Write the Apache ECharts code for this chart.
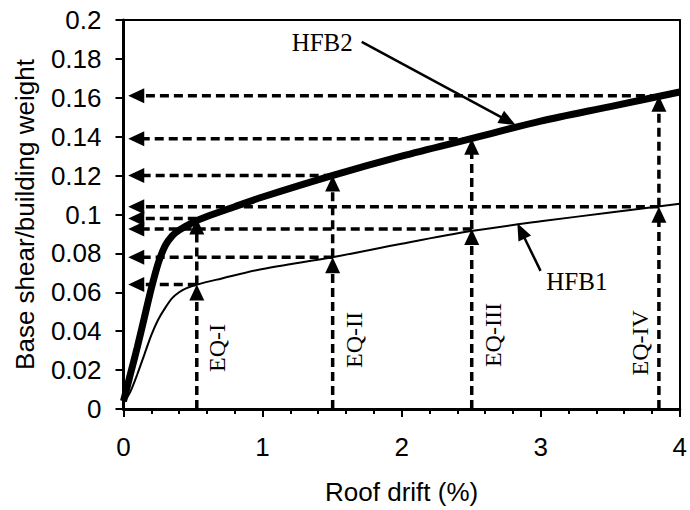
<!DOCTYPE html>
<html><head><meta charset="utf-8">
<script src="https://cdn.jsdelivr.net/npm/echarts@6/dist/echarts.min.js"></script>
<style>html,body{margin:0;padding:0;background:#fff}#c{width:690px;height:510px}</style>
</head><body><div id="c"></div>
<script>
// ---- data ----
const xTickLabels = ['0', '1', '2', '3', '4'];
const yTickLabels = ['0', '0.02', '0.04', '0.06', '0.08', '0.1', '0.12', '0.14', '0.16', '0.18', '0.2'];

const hfb2Drift = [0, 0.05, 0.1, 0.15, 0.2, 0.25, 0.3, 0.35, 0.4, 0.5, 0.6, 0.8, 1.0, 1.5, 2.0, 2.5, 3.0, 3.5, 4.0];
const hfb2Shear = [0.004, 0.018, 0.032, 0.047, 0.062, 0.075, 0.084, 0.089, 0.092, 0.096, 0.099, 0.104, 0.109, 0.12, 0.13, 0.139, 0.148, 0.1555, 0.163];

const hfb1Drift = [0, 0.05, 0.1, 0.15, 0.2, 0.25, 0.3, 0.35, 0.4, 0.45, 0.53, 0.7, 1.0, 1.5, 2.0, 2.5, 3.0, 3.5, 4.0];
const hfb1Shear = [0.003, 0.009, 0.018, 0.028, 0.038, 0.046, 0.052, 0.057, 0.060, 0.062, 0.064, 0.067, 0.072, 0.078, 0.085, 0.0915, 0.0965, 0.101, 0.1055];

const eqNames = ['EQ-I', 'EQ-II', 'EQ-III', 'EQ-IV'];
const eqDrift = [0.527, 1.504, 2.504, 3.85];
const eqShearHFB1 = [0.064, 0.078, 0.0925, 0.104];
const eqShearHFB2 = [0.098, 0.12, 0.139, 0.161];
const arrowTipDrift = 0.034;
const eqLabelDrift = [0.671, 1.654, 2.654, 3.711];
const eqLabelShear = [0.0314, 0.0355, 0.038, 0.034];

const curveNames = ['HFB2', 'HFB1'];
const curveLabelDrift = [1.429, 3.26];
const curveLabelShear = [0.1882, 0.0653];
const pointerFromDrift = [1.713, 2.999];
const pointerFromShear = [0.1888, 0.071];
const pointerToDrift = [2.82, 2.832];
const pointerToShear = [0.146, 0.0955];

// ---- build ----
const SANS = '"Liberation Sans", Arial, sans-serif';
const SERIF = '"Liberation Serif", "Times New Roman", serif';

const dashedSegs = [];
eqDrift.forEach((x, i) => {
  dashedSegs.push([x, 0, x, eqShearHFB1[i]]);
  dashedSegs.push([x, eqShearHFB1[i], x, eqShearHFB2[i]]);
  dashedSegs.push([x, eqShearHFB1[i], arrowTipDrift, eqShearHFB1[i]]);
  dashedSegs.push([x, eqShearHFB2[i], arrowTipDrift, eqShearHFB2[i]]);
});
const pointerSegs = curveNames.map((n, i) => [pointerFromDrift[i], pointerFromShear[i], pointerToDrift[i], pointerToShear[i]]);

function arrow(p1, p2, lw, dash, headL, headW) {
  const dx = p2[0] - p1[0], dy = p2[1] - p1[1];
  const len = Math.hypot(dx, dy) || 1;
  const ux = dx / len, uy = dy / len;
  const bx = p2[0] - ux * headL, by = p2[1] - uy * headL;
  const nx = -uy, ny = ux;
  return {
    type: 'group',
    children: [
      { type: 'line', shape: { x1: p1[0], y1: p1[1], x2: bx + ux * 2, y2: by + uy * 2 },
        style: { stroke: '#000', lineWidth: lw, lineDash: dash, fill: null } },
      { type: 'polygon', shape: { points: [[p2[0], p2[1]], [bx + nx * headW / 2, by + ny * headW / 2], [bx - nx * headW / 2, by - ny * headW / 2]] },
        style: { fill: '#000', stroke: null } }
    ]
  };
}

const chart = echarts.init(document.getElementById('c'), null, { renderer: 'svg' });
chart.setOption({
  animation: false,
  backgroundColor: '#fff',
  grid: { left: 123.5, right: 6.5, top: 20, bottom: 101 },
  xAxis: [{
    type: 'value', min: 0, max: 4, interval: 1,
    axisLine: { onZero: false, lineStyle: { color: '#000', width: 3 } },
    axisTick: { inside: false, length: 8, lineStyle: { color: '#000', width: 2 } },
    minorTick: { show: true, splitNumber: 5, length: 5, lineStyle: { color: '#000', width: 2 } },
    splitLine: { show: false },
    axisLabel: { formatter: (v, i) => xTickLabels[i], fontSize: 26, fontFamily: SANS, color: '#000', margin: 25 },
    name: 'Roof drift (%)', nameLocation: 'middle', nameGap: 70,
    nameTextStyle: { fontSize: 26, fontFamily: SANS, color: '#000' }
  }, {
    type: 'value', min: 0, max: 4, position: 'top',
    axisLine: { show: true, onZero: false, lineStyle: { color: '#000', width: 2 } },
    axisTick: { show: false }, axisLabel: { show: false }, splitLine: { show: false }
  }],
  yAxis: [{
    type: 'value', min: 0, max: 0.2, interval: 0.02,
    axisLine: { show: true, onZero: false, lineStyle: { color: '#000', width: 3 } },
    axisTick: { show: true, inside: false, length: 8, lineStyle: { color: '#000', width: 2 } },
    splitLine: { show: false },
    axisLabel: { formatter: (v, i) => yTickLabels[i], fontSize: 26, fontFamily: SANS, color: '#000', margin: 22 },
    name: 'Base shear/building weight', nameLocation: 'middle', nameGap: 86, nameRotate: 90,
    nameTextStyle: { fontSize: 26, fontFamily: SANS, color: '#000' }
  }, {
    type: 'value', min: 0, max: 0.2, position: 'right',
    axisLine: { show: true, onZero: false, lineStyle: { color: '#000', width: 2 } },
    axisTick: { show: false }, axisLabel: { show: false }, splitLine: { show: false }
  }],
  series: [
    {
      type: 'line', name: 'HFB1', showSymbol: false, symbol: 'none', smooth: 0.3,
      lineStyle: { color: '#000', width: 2 }, z: 3,
      data: hfb1Drift.map((x, i) => [x, hfb1Shear[i]])
    },
    {
      type: 'line', name: 'HFB2', showSymbol: false, symbol: 'none', smooth: 0.3,
      lineStyle: { color: '#000', width: 7 }, z: 3,
      data: hfb2Drift.map((x, i) => [x, hfb2Shear[i]])
    },
    {
      type: 'custom', z: 4, clip: false, silent: true,
      encode: { x: [0, 2], y: [1, 3] },
      data: dashedSegs,
      renderItem: (params, api) => {
        const p1 = api.coord([api.value(0), api.value(1)]);
        const p2 = api.coord([api.value(2), api.value(3)]);
        return arrow(p1, p2, 3.5, [9, 5], 16, 15);
      }
    },
    {
      type: 'custom', z: 4, clip: false, silent: true,
      encode: { x: [0, 2], y: [1, 3] },
      data: pointerSegs,
      renderItem: (params, api) => {
        const p1 = api.coord([api.value(0), api.value(1)]);
        const p2 = api.coord([api.value(2), api.value(3)]);
        return arrow(p1, p2, 2.5, null, 17, 14);
      }
    },
    {
      type: 'custom', z: 5, clip: false, silent: true,
      encode: { x: 0, y: 1 },
      data: curveNames.map((n, i) => [curveLabelDrift[i], curveLabelShear[i]]),
      renderItem: (params, api) => {
        const p = api.coord([api.value(0), api.value(1)]);
        return { type: 'text', x: p[0], y: p[1],
          style: { text: curveNames[params.dataIndex], font: '25px ' + SERIF, fill: '#000', align: 'center', verticalAlign: 'middle' } };
      }
    },
    {
      type: 'custom', z: 5, clip: false, silent: true,
      encode: { x: 0, y: 1 },
      data: eqNames.map((n, i) => [eqLabelDrift[i], eqLabelShear[i]]),
      renderItem: (params, api) => {
        const p = api.coord([api.value(0), api.value(1)]);
        return { type: 'text', x: p[0], y: p[1], rotation: Math.PI / 2,
          style: { text: eqNames[params.dataIndex], font: '24px ' + SERIF, fill: '#000', align: 'center', verticalAlign: 'middle' } };
      }
    }
  ]
});
</script>
</body></html>
